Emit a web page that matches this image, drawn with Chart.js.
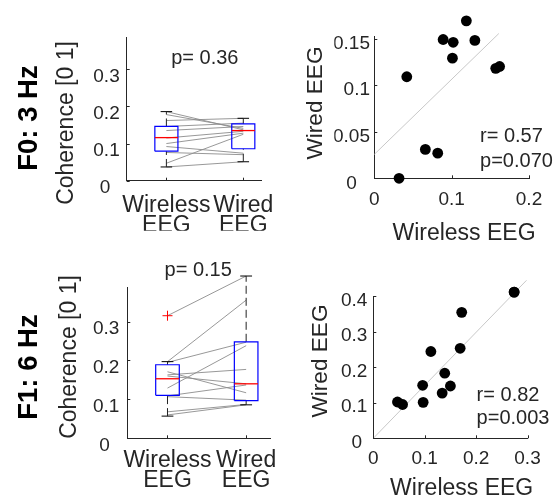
<!DOCTYPE html>
<html>
<head>
<meta charset="utf-8">
<script src="https://cdn.jsdelivr.net/npm/chart.js@4.4.1/dist/chart.umd.min.js"></script>
<style>
  html, body { margin:0; padding:0; background:#fff; }
  #fig { position:relative; width:556px; height:499px; overflow:hidden;
         font-family:'Liberation Sans', Arial, sans-serif; color:#262626; }
  canvas { position:absolute; }
  .lbl { position:absolute; white-space:nowrap; line-height:1; font-size:23px;
         transform:translate(-50%,-50%); }
  .rot { transform:translate(-50%,-50%) rotate(-90deg); }
  .row { font-weight:bold; font-size:27.5px; color:#000; }
</style>
</head>
<body>
<div id="fig">
  <canvas id="f0box"     style="left:0;top:0"       width="290" height="250"></canvas>
  <canvas id="f0scatter" style="left:290px;top:0"   width="266" height="250"></canvas>
  <canvas id="f1box"     style="left:0;top:250px"   width="290" height="249"></canvas>
  <canvas id="f1scatter" style="left:290px;top:250px" width="266" height="249"></canvas>

  <div class="lbl rot row" style="left:28px;top:117.5px">F0: 3 Hz</div>
  <div class="lbl rot row" style="left:28px;top:366.7px">F1: 6 Hz</div>
  <div class="lbl rot" style="left:65px;top:123.3px">Coherence [0 1]</div>
  <div class="lbl rot" style="left:68.3px;top:356.7px">Coherence [0 1]</div>
  <div class="lbl rot" style="left:315px;top:103.3px;font-size:22.6px">Wired EEG</div>
  <div class="lbl rot" style="left:320px;top:360.8px;font-size:22.6px">Wired EEG</div>
  <div class="lbl" style="left:464px;top:231.7px">Wireless EEG</div>
  <div class="lbl" style="left:461.7px;top:486.7px">Wireless EEG</div>
</div>
<script>
const wirelessPos = 1, wiredPos = 2;
const boxTickLabels = [['Wireless', 'EEG'], ['Wired', 'EEG']];
const coherenceTicks = [0, 0.1, 0.2, 0.3];
const f0XTicks = [0, 0.1, 0.2];
const f0YTicks = [0, 0.05, 0.1, 0.15];
const f1XTicks = [0, 0.1, 0.2, 0.3];
const f1YTicks = [0, 0.1, 0.2, 0.3, 0.4];

// per-subject coherence, F0 (3 Hz)
const f0Wireless = [0.186, 0.178, 0.162, 0.146, 0.135, 0.115, 0.100, 0.092, 0.076, 0.047, 0.037];
const f0Wired    = [0.137, 0.141, 0.168, 0.155, 0.146, 0.133, 0.128, 0.074, 0.070, 0.125, 0.051];
// box stats: lower whisker, q1, median, q3, upper whisker
const f0WirelessBox = [0.037, 0.0795, 0.116, 0.146, 0.186];
const f0WiredBox    = [0.051, 0.086, 0.135, 0.153, 0.168];

// per-subject coherence, F1 (6 Hz)
const f1Wireless = [0.315, 0.197, 0.195, 0.129, 0.171, 0.160, 0.163, 0.109, 0.107, 0.068, 0.060];
const f1Wired    = [0.417, 0.355, 0.247, 0.238, 0.117, 0.140, 0.177, 0.137, 0.098, 0.087, 0.086];
const f1WirelessBox = [0.057, 0.1105, 0.153, 0.189, 0.197];
const f1WiredBox    = [0.086, 0.097, 0.140, 0.248, 0.417];
const f1WirelessOutliers = [0.315];

// scatter: wireless (x) vs wired (y)
const f0ScatterX = [0.032, 0.042, 0.066, 0.082, 0.089, 0.102, 0.101, 0.119, 0.130, 0.157, 0.162];
const f0ScatterY = [0.000, 0.109, 0.031, 0.027, 0.149, 0.146, 0.129, 0.169, 0.148, 0.118, 0.120];
const f0FitX = [0, 0.161];
const f0FitY = [0.0257, 0.1554];

const f1ScatterX = [0.047, 0.057, 0.096, 0.097, 0.112, 0.134, 0.139, 0.150, 0.169, 0.172, 0.274];
const f1ScatterY = [0.102, 0.095, 0.149, 0.101, 0.244, 0.127, 0.183, 0.147, 0.253, 0.354, 0.411];
const f1FitX = [0, 0.298];
const f1FitY = [0, 0.444];

const INK = '#262626';
const FONT = "'Liberation Sans', Arial, sans-serif";
const seg = (xs, ys) => xs.map((x, i) => ({ x, y: ys[i] }));

function lineSet(data, color, width, dash) {
  return { data, showLine: true, borderColor: color, borderWidth: width, borderDash: dash || [],
    pointRadius: 0, pointHoverRadius: 0, fill: false, clip: false, tension: 0 };
}

function boxSets(pos, s) {
  const [lo, q1, med, q3, hi] = s;
  const w = 0.15, c = 0.075;
  return [
    lineSet(seg([pos - w, pos + w], [med, med]), '#ff0000', 1.3),
    lineSet(seg([pos - w, pos + w, pos + w, pos - w, pos - w], [q1, q1, q3, q3, q1]), '#0000ff', 1.2),
    lineSet(seg([pos, pos], [q3, hi]), '#222', 1, [8, 4]),
    lineSet(seg([pos, pos], [lo, q1]), '#222', 1, [8, 4]),
    lineSet(seg([pos - c, pos + c], [hi, hi]), '#000', 1),
    lineSet(seg([pos - c, pos + c], [lo, lo]), '#000', 1)
  ];
}

function pairSets(a, b) {
  return a.map((v, i) => lineSet(seg([wirelessPos, wiredPos], [v, b[i]]), '#8c8c8c', 0.9));
}

function dotSet(xs, ys) {
  return { data: seg(xs, ys), backgroundColor: '#000', borderColor: '#000', borderWidth: 0,
    pointRadius: 5.4, pointHoverRadius: 5.4, clip: false };
}

// MATLAB nudges the origin "0" labels away from the corner; trailing spaces do the same here
const zeroLabel = gap => v => (v === 0 ? '0' + gap : String(v));

function axis(o) {
  return {
    type: 'linear', min: o.min, max: o.max,
    grid: { display: false, drawTicks: false },
    border: { display: true, color: INK, width: 1 },
    ticks: { color: INK, font: { family: FONT, size: o.size, lineHeight: o.lh || 1.2 },
      padding: o.pad, labelOffset: o.off || 0, autoSkip: false, maxRotation: 0, minRotation: 0,
      callback: o.cb || (v => String(v)) },
    afterBuildTicks: s => { s.ticks = o.ticks.map(v => ({ value: v })); },
    afterFit: s => { if (o.h) s.height = o.h; else s.width = o.w; }
  };
}

// MATLAB style inward tick marks
const inTicks = {
  id: 'inTicks',
  afterDraw(chart) {
    const { ctx, chartArea: a, scales: { x, y } } = chart;
    ctx.save();
    ctx.strokeStyle = INK; ctx.lineWidth = 1;
    ctx.beginPath();
    x.ticks.forEach(t => { const p = Math.round(x.getPixelForValue(t.value)) + 0.5; ctx.moveTo(p, a.bottom); ctx.lineTo(p, a.bottom - 3); });
    y.ticks.forEach(t => { const p = Math.round(y.getPixelForValue(t.value)) + 0.5; ctx.moveTo(a.left, p); ctx.lineTo(a.left + 3, p); });
    ctx.stroke();
    ctx.restore();
  }
};

// Chart.js skips points outside the chart area; MATLAB draws them, so draw those too
const strayPoints = {
  id: 'strayPoints',
  afterDatasetsDraw(chart) {
    const a = chart.chartArea;
    chart.getSortedVisibleDatasetMetas().forEach(meta => {
      meta.data.forEach(pt => {
        if (pt.options.radius < 0.1) return;
        const r = pt.options.radius;
        const out = pt.x < a.left - r / 2 || pt.x > a.right + r / 2 || pt.y < a.top - r / 2 || pt.y > a.bottom + r / 2;
        if (out) pt.draw(chart.ctx);
      });
    });
  }
};

const notes = {
  id: 'notes',
  afterDatasetsDraw(chart, args, opts) {
    const { ctx, scales: { x, y } } = chart;
    ctx.save();
    ctx.font = `20px ${FONT}`;
    ctx.fillStyle = INK;
    ctx.textBaseline = 'middle';
    (opts.items || []).forEach(n => {
      ctx.textAlign = n.align || 'center';
      ctx.fillText(n.text, x.getPixelForValue(n.x), y.getPixelForValue(n.y));
    });
    ctx.restore();
  }
};

function make(id, datasets, xs, ys, padding, items) {
  return new Chart(document.getElementById(id), {
    type: 'scatter',
    data: { datasets },
    options: {
      responsive: false, animation: false, events: [],
      layout: { padding },
      scales: { x: xs, y: ys },
      plugins: { legend: { display: false }, tooltip: { enabled: false }, notes: { items } }
    },
    plugins: [inTicks, strayPoints, notes]
  });
}

const boxLabel = v => boxTickLabels[v - 1];

make('f0box',
  [...boxSets(wirelessPos, f0WirelessBox), ...boxSets(wiredPos, f0WiredBox), ...pairSets(f0Wireless, f0Wired)],
  axis({ min: 0.484, max: 2.234, ticks: [wirelessPos, wiredPos], size: 23, lh: '20px', pad: 14.8, h: 50, cb: boxLabel }),
  axis({ min: 0, max: 0.385, ticks: coherenceTicks, size: 19, pad: 7, off: 7, w: 60, cb: zeroLabel('\u2002') }),
  { left: 66.7, top: 37.7, right: 14, bottom: 19.3 },
  [{ text: 'p= 0.36', x: 1.5, y: 0.33 }]);

make('f1box',
  [...boxSets(wirelessPos, f1WirelessBox), ...boxSets(wiredPos, f1WiredBox),
   { data: f1WirelessOutliers.map(v => ({ x: wirelessPos, y: v })), pointStyle: 'cross', pointRadius: 5,
     borderColor: '#ff0000', borderWidth: 1, clip: false },
   ...pairSets(f1Wireless, f1Wired)],
  axis({ min: 0.489, max: 2.313, ticks: [wirelessPos, wiredPos], size: 23, lh: '20px', pad: 12.5, h: 50, cb: boxLabel }),
  axis({ min: 0, max: 0.387, ticks: coherenceTicks, size: 19, pad: 8, off: 7, w: 60, cb: zeroLabel('\u2002') }),
  { left: 67.3, top: 37.7, right: 7.7, bottom: 10.7 },
  [{ text: 'p= 0.15', x: 1.39, y: 0.431 }]);

make('f0scatter',
  [dotSet(f0ScatterX, f0ScatterY), lineSet(seg(f0FitX, f0FitY), '#c8c8c8', 1)],
  axis({ min: 0, max: 0.2, ticks: f0XTicks, size: 19, pad: 9.6, h: 40 }),
  axis({ min: 0, max: 0.152, ticks: f0YTicks, size: 19, pad: 4.3, off: 5, w: 40, cb: zeroLabel('\u2002\u2009') }),
  { left: 44.3, top: 36.7, right: 27, bottom: 31.7 },
  [{ text: 'r= 0.57', x: 0.1367, y: 0.0446, align: 'left' },
   { text: 'p=0.070', x: 0.1367, y: 0.0178, align: 'left' }]);

make('f1scatter',
  [dotSet(f1ScatterX, f1ScatterY), lineSet(seg(f1FitX, f1FitY), '#c8c8c8', 1)],
  axis({ min: 0, max: 0.3, ticks: f1XTicks, size: 19, pad: 8.6, h: 40 }),
  axis({ min: 0, max: 0.4, ticks: f1YTicks, size: 19, pad: 6, off: 4.5, w: 40, cb: zeroLabel(' ') }),
  { left: 43.3, top: 46, right: 28.5, bottom: 20.7 },
  [{ text: 'r= 0.82', x: 0.201, y: 0.121, align: 'left' },
   { text: 'p=0.003', x: 0.201, y: 0.056, align: 'left' }]);
</script>
</body>
</html>
